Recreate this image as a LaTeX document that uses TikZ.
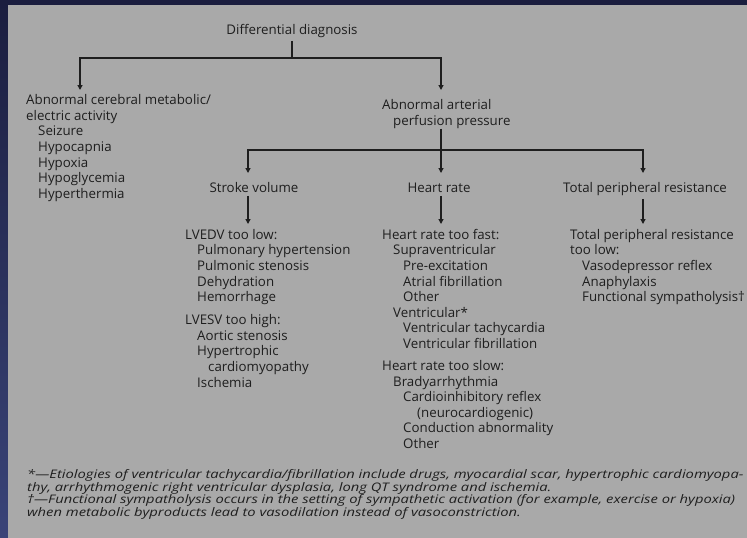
\documentclass[tikz,border=0pt]{standalone}
\usepackage{fontspec}
\setmainfont{Open Sans}
\newfontfamily\notefont[FakeStretch=1.25]{Open Sans}
\usetikzlibrary{arrows.meta}
\definecolor{navy}{HTML}{1B1E3F}
\definecolor{navylight}{HTML}{3A4478}
\definecolor{panel}{HTML}{A9A9A9}
\definecolor{ink}{HTML}{1E1E1E}
\begin{document}
\begin{tikzpicture}[x=1pt,y=-1pt,
  txt/.style={inner sep=0pt, text=ink, font=\fontsize{13.3}{15.6}\selectfont, align=left, anchor=north west},
  head/.style={inner sep=3pt, text=ink, font=\fontsize{13.3}{15.6}\selectfont, anchor=base},
  conn/.style={draw=ink, line width=1.2pt},
  arr/.style={conn, -{Triangle[length=5pt,width=5pt]}},
  note/.style={inner sep=0pt, text=ink, font=\notefont\fontsize{11.8}{12.8}\selectfont\itshape, align=left, anchor=north west}]
\useasboundingbox (0,0) rectangle (747,538);
% background
\fill[navy] (0,0) rectangle (747,538);
\shade[top color=navy, bottom color=navylight] (0,0) rectangle (8,538);
\fill[panel] (8,5) rectangle (747,538);

% top level
\node[head] (dd) at (292,34.5) {Differential diagnosis};
\coordinate (j1) at (80,58);
\coordinate (j2) at (441,58);
\coordinate (e1) at (80,90);
\coordinate (e2) at (441,90);

\node[txt] (acm) at (26,93.5) {\rule{0pt}{11pt}Abnormal cerebral metabolic/\\
electric activity\\
\hspace*{12pt}Seizure\\
\hspace*{12pt}Hypocapnia\\
\hspace*{12pt}Hypoxia\\
\hspace*{12pt}Hypoglycemia\\
\hspace*{12pt}Hyperthermia};

\node[txt] (aap) at (382,98.5) {\rule{0pt}{11pt}Abnormal arterial\\
\hspace*{11pt}perfusion pressure};

\draw[arr] (dd.south) -- (dd.south |- j1) -| (e1);
\draw[arr] (dd.south |- j1) -| (e2);

% second level
\coordinate (k0) at (441,150);
\coordinate (f1) at (248,173);
\coordinate (f2) at (441,173);
\coordinate (f3) at (643,173);
\draw[arr] (aap.south -| k0) -- (f2);
\draw[arr] (k0) -| (f1);
\draw[arr] (k0) -| (f3);

\node[head] (svh) at (254,192.5) {Stroke volume};
\node[head] (hrh) at (439,192.5) {Heart rate};
\node[head] (tprh) at (645,192.5) {Total peripheral resistance};

\coordinate (g1) at (248,224);
\coordinate (g2) at (441,224);
\coordinate (g3) at (643,224);
\draw[arr] (svh.south -| g1) -- (g1);
\draw[arr] (hrh.south -| g2) -- (g2);
\draw[arr] (tprh.south -| g3) -- (g3);

% third level
\node[txt] (sv) at (185,228) {\rule{0pt}{11pt}LVEDV too low:\\
\hspace*{12pt}Pulmonary hypertension\\
\hspace*{12pt}Pulmonic stenosis\\
\hspace*{12pt}Dehydration\\
\hspace*{12pt}Hemorrhage\\[7.5pt]
LVESV too high:\\
\hspace*{12pt}Aortic stenosis\\
\hspace*{12pt}Hypertrophic\\
\hspace*{23pt}cardiomyopathy\\
\hspace*{12pt}Ischemia};

\node[txt] (hr) at (382,228) {\rule{0pt}{11pt}Heart rate too fast:\\
\hspace*{11pt}Supraventricular\\
\hspace*{21pt}Pre-excitation\\
\hspace*{21pt}Atrial fibrillation\\
\hspace*{21pt}Other\\
\hspace*{11pt}Ventricular*\\
\hspace*{21pt}Ventricular tachycardia\\
\hspace*{21pt}Ventricular fibrillation\\[6.5pt]
Heart rate too slow:\\
\hspace*{11pt}Bradyarrhythmia\\
\hspace*{21pt}Cardioinhibitory reflex\\
\hspace*{35pt}(neurocardiogenic)\\
\hspace*{21pt}Conduction abnormality\\
\hspace*{21pt}Other};

\node[txt] (tpr) at (570,228) {\rule{0pt}{11pt}Total peripheral resistance\\
too low:\\
\hspace*{12pt}Vasodepressor reflex\\
\hspace*{12pt}Anaphylaxis\\
\hspace*{12pt}Functional sympatholysis†};

% footnotes
\node[note] (fn) at (27,468) {\rule{0pt}{10pt}*—Etiologies of ventricular tachycardia/fibrillation include drugs, myocardial scar, hypertrophic cardiomyopa-\\
thy, arrhythmogenic right ventricular dysplasia, long QT syndrome and ischemia.\\
†—Functional sympatholysis occurs in the setting of sympathetic activation (for example, exercise or hypoxia)\\
when metabolic byproducts lead to vasodilation instead of vasoconstriction.};
\end{tikzpicture}
\end{document}
